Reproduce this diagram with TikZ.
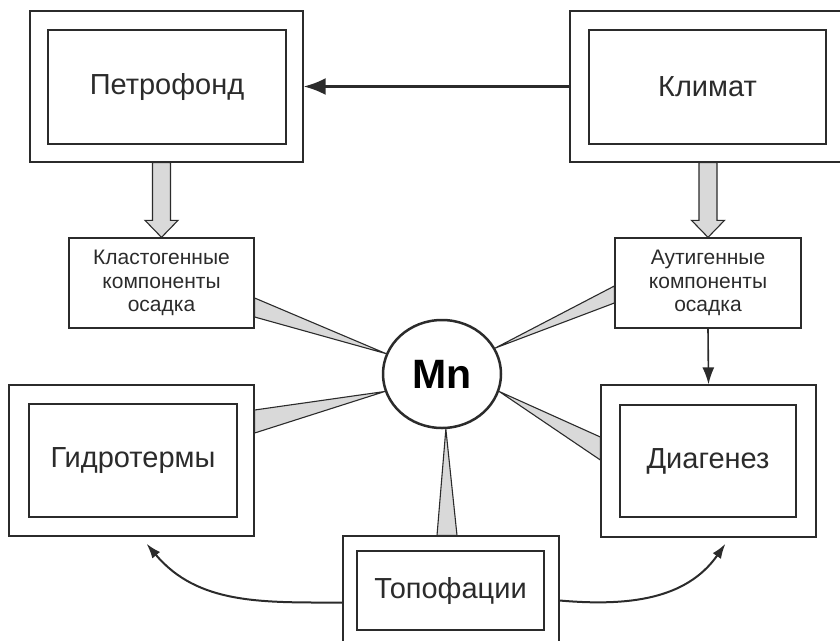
\documentclass[tikz,border=0pt]{standalone}
\usepackage{fontspec}
\setmainfont{Liberation Sans}
\usetikzlibrary{shapes.geometric, arrows.meta, calc}

\definecolor{ink}{HTML}{2B2B2B}
\definecolor{shade}{HTML}{D9D9D9}

% wide grey arrow pointing down from #1 to #2
\newcommand{\fatarrow}[2]{%
  \path[fat] let \p1=(#1), \p2=(#2) in
    (\x1-9pt,\y1) -- (\x1-9pt,\y2+17pt) -- (\x1-16.5pt,\y2+17pt) -- (\x2,\y2)
    -- (\x1+16.5pt,\y2+17pt) -- (\x1+9pt,\y2+17pt) -- (\x1+9pt,\y1) -- cycle;}

\begin{document}
\begin{tikzpicture}[
		x=1pt, y=-1pt,
		frame/.style={rectangle, draw=ink, line width=1.3pt, inner sep=0pt},
		big/.style={font=\fontsize{29}{34}\selectfont, text=ink},
		small/.style={font=\fontsize{21}{23.5}\selectfont, text=ink, align=center},
		wedge/.style={draw=ink, fill=shade, line width=1.1pt, line join=round},
		fat/.style={draw=ink, fill=shade, line width=1.1pt},
		line/.style={draw=ink, line width=2pt, -{Latex[length=15pt, width=10pt]}}
		]
		\useasboundingbox (0,0) rectangle (840,640);
		
		% Top row
		\node[frame, minimum width=273, minimum height=151] (petro) at (166.5,86.5) {};
		\node[frame, big, minimum width=238, minimum height=114] (petroin) at (167,87) {Петрофонд};
		\node[frame, minimum width=275, minimum height=151] (klimat) at (707.5,86.5) {};
		\node[frame, big, minimum width=237, minimum height=114] (klimatin) at (707.5,87) {Климат};
		
		% Sediment components
		\node[frame, small, minimum width=185, minimum height=90] (klast) at (161.5,283) {Кластогенные\\компоненты\\осадка};
		\node[frame, small, minimum width=186, minimum height=90] (autig) at (708,283) {Аутигенные\\компоненты\\осадка};
		
		% Centre
		\node[ellipse, draw=ink, line width=2.5pt, fill=white, inner sep=0pt, minimum width=118, minimum height=108,
			font=\fontsize{41}{41}\selectfont\bfseries, text=black] (mn) at (442,374) {Mn};
		
		% Lower row
		\node[frame, minimum width=245, minimum height=151] (gidro) at (131.5,460.5) {};
		\node[frame, big, minimum width=208, minimum height=113] (gidroin) at (133,460.5) {Гидротермы};
		\node[frame, minimum width=215, minimum height=152] (diag) at (708.5,461) {};
		\node[frame, big, minimum width=176, minimum height=112] (diagin) at (708,461) {Диагенез};
		\node[frame, minimum width=216, minimum height=109] (topo) at (451,590.5) {};
		\node[frame, big, minimum width=187, minimum height=79] (topoin) at (450.5,590.5) {Топофации};
		
		% Wedges to Mn
		\path[wedge] (mn.160) -- ($(klast.east)+(0,15)$) -- ($(klast.east)+(0,34)$) -- cycle;
		\path[wedge] (mn.26) -- ($(autig.west)+(0,3)$) -- ($(autig.west)+(0,20)$) -- cycle;
		\path[wedge] (mn.197) -- ($(gidro.east)+(0,-50.5)$) -- ($(gidro.east)+(0,-27.5)$) -- cycle;
		\path[wedge] (mn.343) -- ($(diag.west)+(0,-24)$) -- ($(diag.west)+(0,-1)$) -- cycle;
		\path[wedge] (mn.274) -- ($(topo.north)+(-14,0)$) -- ($(topo.north)+(6,0)$) -- cycle;
		
		% Wide arrows
		\fatarrow{petro.south -| klast.north}{klast.north}
		\fatarrow{klimat.south -| autig.north}{autig.north}
		
		% Connections
		\path[draw=ink, line width=2.5pt, -{Latex[length=22pt, width=17pt]}] (klimat.west) -- (petro.east);
		\path[draw=ink, line width=1.6pt, -{Latex[length=17pt, width=12pt]}] (autig.south) -- (diag.north);
		\path[line] ($(topo.west)+(0,12)$) to[out=180, in=-50] ($(gidro.south)+(15,7)$);
		\path[line] ($(topo.east)+(0,10)$) to[out=-5, in=-125] ($(diag.south)+(17,6)$);
		
	\end{tikzpicture}
\end{document}
